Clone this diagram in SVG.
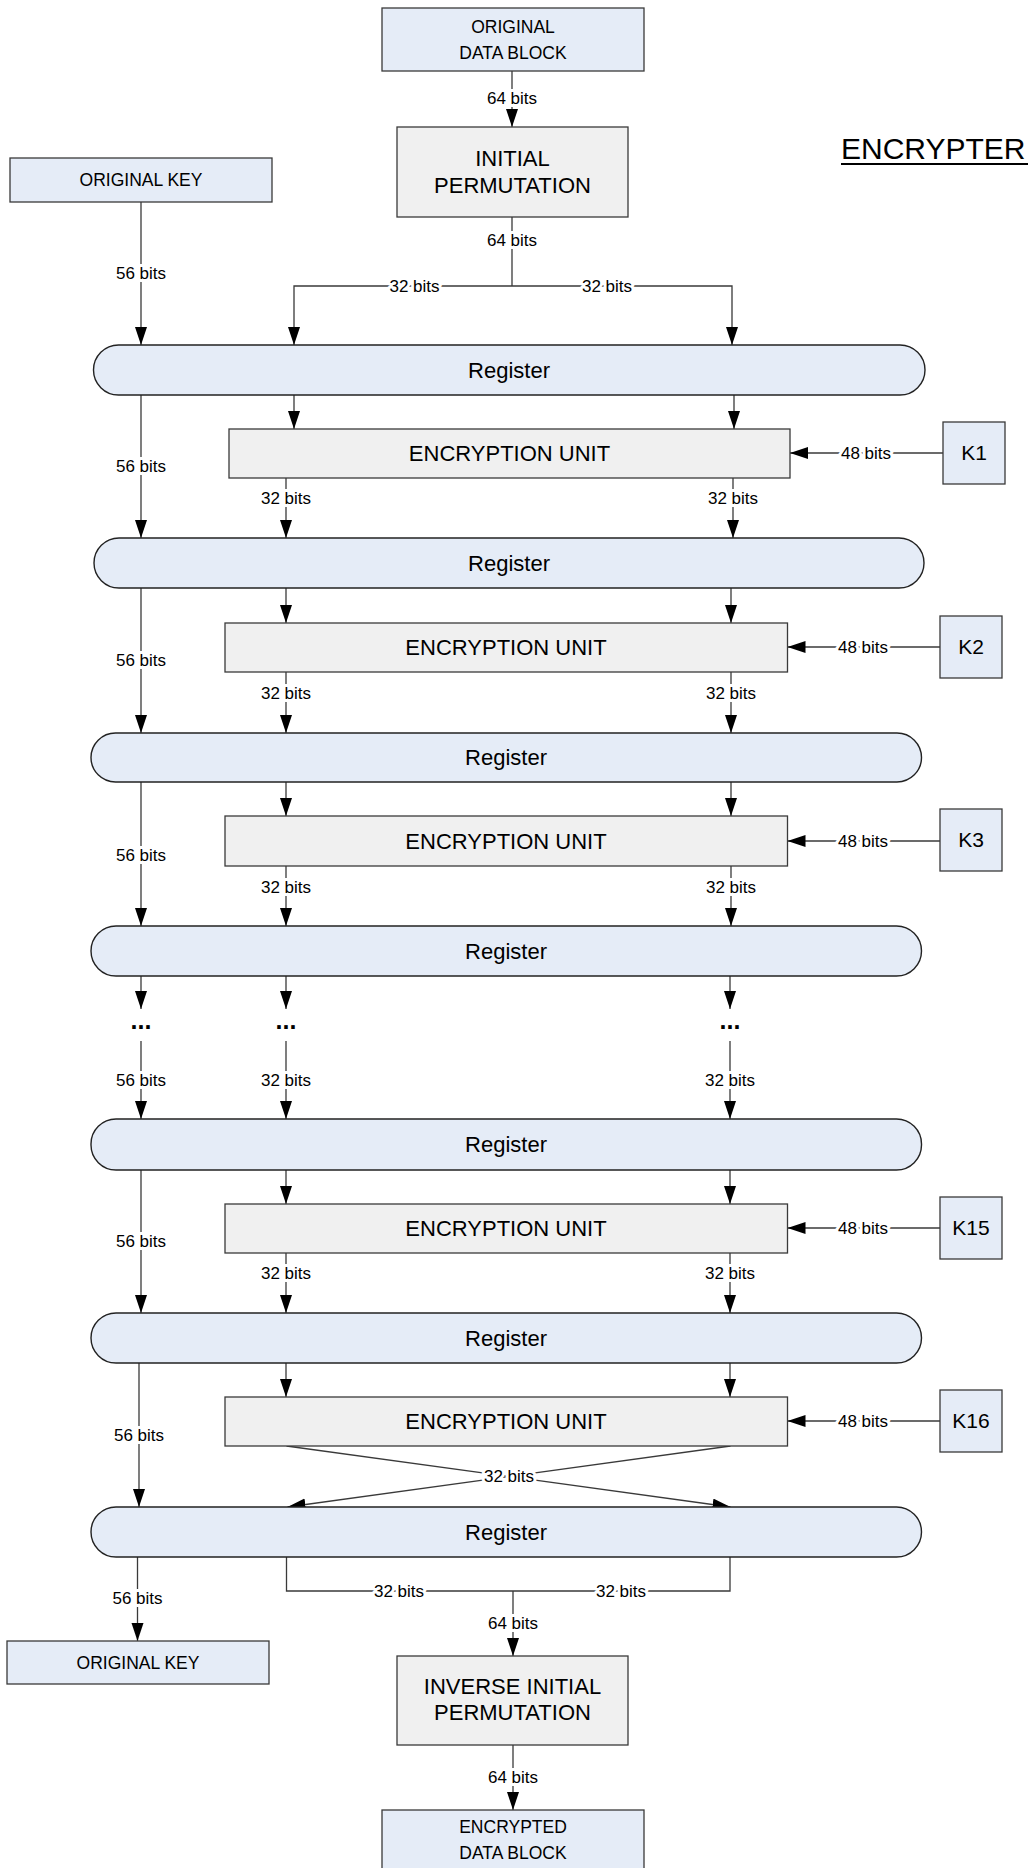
<svg xmlns="http://www.w3.org/2000/svg" width="1035" height="1868" viewBox="0 0 1035 1868">
<style>
text{font-family:"Liberation Sans",Arial,sans-serif;fill:#000;text-anchor:middle}
.blue{fill:#E5ECF7;stroke:#3a3a3a;stroke-width:1.3}
.grey{fill:#F0F0F0;stroke:#3a3a3a;stroke-width:1.3}
.reg{fill:#E5ECF7;stroke:#222;stroke-width:1.4}
.t17{font-size:17.5px}
.t22{font-size:22px}
.tk{font-size:21px}
.lbl{font-size:17px;stroke:#fff;stroke-width:6;paint-order:stroke;stroke-linejoin:round}
.dots{font-size:25px;font-weight:bold}
.c{fill:none;stroke:#3a3a3a;stroke-width:1.3}
.a{marker-end:url(#ah)}
</style>
<defs>
<marker id="ah" markerUnits="userSpaceOnUse" markerWidth="19" markerHeight="13" refX="18" refY="6" orient="auto">
<path d="M0,0 L18,6 L0,12 Z" fill="#000"/>
</marker>
</defs>
<rect width="1035" height="1868" fill="#fff"/>

<g id="connectors">
<path class="c a" d="M512,71 V127"/>
<path class="c" d="M512,217 V286"/>
<path class="c a" d="M512,286 H294 V345"/>
<path class="c a" d="M512,286 H732 V345"/>
<path class="c a" d="M141,202 V345"/>

<path class="c a" d="M294,395 V429"/>
<path class="c a" d="M734,395 V429"/>
<path class="c a" d="M141,395 V538"/>
<path class="c a" d="M286,478 V538"/>
<path class="c a" d="M733,478 V538"/>
<path class="c a" d="M943,453 H790"/>

<path class="c a" d="M286,588 V623"/>
<path class="c a" d="M731,588 V623"/>
<path class="c a" d="M141,588 V733"/>
<path class="c a" d="M286,672 V733"/>
<path class="c a" d="M731,672 V733"/>
<path class="c a" d="M940,647 H787.5"/>

<path class="c a" d="M286,782 V816"/>
<path class="c a" d="M731,782 V816"/>
<path class="c a" d="M141,782 V926"/>
<path class="c a" d="M286,866 V926"/>
<path class="c a" d="M731,866 V926"/>
<path class="c a" d="M940,841 H787.5"/>

<path class="c a" d="M141,976 V1009"/>
<path class="c a" d="M286,976 V1009"/>
<path class="c a" d="M730,976 V1009"/>
<path class="c a" d="M141,1041 V1119"/>
<path class="c a" d="M286,1041 V1119"/>
<path class="c a" d="M730,1041 V1119"/>

<path class="c a" d="M286,1170 V1204"/>
<path class="c a" d="M730,1170 V1204"/>
<path class="c a" d="M141,1170 V1313"/>
<path class="c a" d="M286,1253 V1313"/>
<path class="c a" d="M730,1253 V1313"/>
<path class="c a" d="M940,1228 H787.5"/>

<path class="c a" d="M286,1363 V1397"/>
<path class="c a" d="M730,1363 V1397"/>
<path class="c a" d="M139,1363 V1507"/>
<path class="c a" d="M286.5,1446 L730.5,1507"/>
<path class="c a" d="M730.5,1446 L287.5,1507"/>
<path class="c a" d="M940,1421 H787.5"/>

<path class="c a" d="M137.5,1557 V1641"/>
<path class="c" d="M286.5,1557 V1591 H513"/>
<path class="c" d="M730,1557 V1591 H513"/>
<path class="c a" d="M513,1591 V1656"/>
<path class="c a" d="M513,1745 V1810"/>

<text class="lbl" x="512" y="98" dy=".35em">64 bits</text>
<text class="lbl" x="512" y="240" dy=".35em">64 bits</text>
<text class="lbl" x="414.5" y="286" dy=".35em">32 bits</text>
<text class="lbl" x="607" y="286" dy=".35em">32 bits</text>
<text class="lbl" x="141" y="273" dy=".35em">56 bits</text>

<text class="lbl" x="141" y="466" dy=".35em">56 bits</text>
<text class="lbl" x="286" y="498" dy=".35em">32 bits</text>
<text class="lbl" x="733" y="498" dy=".35em">32 bits</text>
<text class="lbl" x="866" y="453" dy=".35em">48 bits</text>

<text class="lbl" x="141" y="660" dy=".35em">56 bits</text>
<text class="lbl" x="286" y="693" dy=".35em">32 bits</text>
<text class="lbl" x="731" y="693" dy=".35em">32 bits</text>
<text class="lbl" x="863" y="647" dy=".35em">48 bits</text>

<text class="lbl" x="141" y="855" dy=".35em">56 bits</text>
<text class="lbl" x="286" y="887" dy=".35em">32 bits</text>
<text class="lbl" x="731" y="887" dy=".35em">32 bits</text>
<text class="lbl" x="863" y="841" dy=".35em">48 bits</text>

<text class="dots" x="141" y="1029">...</text>
<text class="dots" x="286" y="1029">...</text>
<text class="dots" x="730" y="1029">...</text>
<text class="lbl" x="141" y="1080" dy=".35em">56 bits</text>
<text class="lbl" x="286" y="1080" dy=".35em">32 bits</text>
<text class="lbl" x="730" y="1080" dy=".35em">32 bits</text>

<text class="lbl" x="141" y="1241" dy=".35em">56 bits</text>
<text class="lbl" x="286" y="1273" dy=".35em">32 bits</text>
<text class="lbl" x="730" y="1273" dy=".35em">32 bits</text>
<text class="lbl" x="863" y="1228" dy=".35em">48 bits</text>

<text class="lbl" x="139" y="1435" dy=".35em">56 bits</text>
<text class="lbl" x="509" y="1476" dy=".35em">32 bits</text>
<text class="lbl" x="863" y="1421" dy=".35em">48 bits</text>

<text class="lbl" x="137.5" y="1598" dy=".35em">56 bits</text>
<text class="lbl" x="399" y="1591" dy=".35em">32 bits</text>
<text class="lbl" x="621" y="1591" dy=".35em">32 bits</text>
<text class="lbl" x="513" y="1623" dy=".35em">64 bits</text>
<text class="lbl" x="513" y="1777" dy=".35em">64 bits</text>
</g>

<g id="title">
<text x="841" y="159" style="font-size:30px;text-anchor:start">ENCRYPTER</text>
<rect x="841" y="163" width="187" height="2" fill="#000"/>
</g>

<g id="orig-data-block">
<rect class="blue" x="382" y="8" width="262" height="63"/>
<text class="t17" x="513" y="27" dy=".35em">ORIGINAL</text>
<text class="t17" x="513" y="53" dy=".35em">DATA BLOCK</text>
</g>
<g id="initial-permutation">
<rect class="grey" x="397" y="127" width="231" height="90"/>
<text class="t22" x="512.5" y="158" dy=".35em">INITIAL</text>
<text class="t22" x="512.5" y="185" dy=".35em">PERMUTATION</text>
</g>
<g id="original-key-in">
<rect class="blue" x="10" y="158" width="262" height="44"/>
<text class="t17" x="141" y="180" dy=".35em">ORIGINAL KEY</text>
</g>

<g id="register1"><rect class="reg" x="93.5" y="345" width="831.5" height="50" rx="25"/><text class="t22" x="509" y="370" dy=".35em">Register</text></g>
<g id="register2"><rect class="reg" x="94" y="538" width="830" height="50" rx="25"/><text class="t22" x="509" y="563" dy=".35em">Register</text></g>
<g id="register3"><rect class="reg" x="91" y="733" width="830.5" height="49" rx="24.5"/><text class="t22" x="506" y="757.5" dy=".35em">Register</text></g>
<g id="register4"><rect class="reg" x="91" y="926" width="830.5" height="50" rx="25"/><text class="t22" x="506" y="951" dy=".35em">Register</text></g>
<g id="register5"><rect class="reg" x="91" y="1119" width="830.5" height="51" rx="25"/><text class="t22" x="506" y="1144.5" dy=".35em">Register</text></g>
<g id="register6"><rect class="reg" x="91" y="1313" width="830.5" height="50" rx="25"/><text class="t22" x="506" y="1338" dy=".35em">Register</text></g>
<g id="register7"><rect class="reg" x="91" y="1507" width="830.5" height="50" rx="25"/><text class="t22" x="506" y="1532" dy=".35em">Register</text></g>

<g id="eu1"><rect class="grey" x="229" y="429" width="561" height="49"/><text class="t22" x="509.5" y="453.5" dy=".35em">ENCRYPTION UNIT</text></g>
<g id="eu2"><rect class="grey" x="225" y="623" width="562.5" height="49"/><text class="t22" x="506" y="647.5" dy=".35em">ENCRYPTION UNIT</text></g>
<g id="eu3"><rect class="grey" x="225" y="816" width="562.5" height="50"/><text class="t22" x="506" y="841" dy=".35em">ENCRYPTION UNIT</text></g>
<g id="eu15"><rect class="grey" x="225" y="1204" width="562.5" height="49"/><text class="t22" x="506" y="1228.5" dy=".35em">ENCRYPTION UNIT</text></g>
<g id="eu16"><rect class="grey" x="225" y="1397" width="562.5" height="49"/><text class="t22" x="506" y="1421.5" dy=".35em">ENCRYPTION UNIT</text></g>

<g id="k1"><rect class="blue" x="943" y="422" width="62" height="62"/><text class="tk" x="974" y="453" dy=".35em">K1</text></g>
<g id="k2"><rect class="blue" x="940" y="616" width="62" height="62"/><text class="tk" x="971" y="647" dy=".35em">K2</text></g>
<g id="k3"><rect class="blue" x="940" y="809" width="62" height="62"/><text class="tk" x="971" y="840" dy=".35em">K3</text></g>
<g id="k15"><rect class="blue" x="940" y="1197" width="62" height="62"/><text class="tk" x="971" y="1228" dy=".35em">K15</text></g>
<g id="k16"><rect class="blue" x="940" y="1390" width="62" height="62"/><text class="tk" x="971" y="1421" dy=".35em">K16</text></g>

<g id="original-key-out">
<rect class="blue" x="7" y="1641" width="262" height="43"/>
<text class="t17" x="138" y="1662.5" dy=".35em">ORIGINAL KEY</text>
</g>
<g id="inverse-initial-permutation">
<rect class="grey" x="397" y="1656" width="231" height="89"/>
<text class="t22" x="512.5" y="1686" dy=".35em">INVERSE INITIAL</text>
<text class="t22" x="512.5" y="1712" dy=".35em">PERMUTATION</text>
</g>
<g id="encrypted-data-block">
<rect class="blue" x="382" y="1810" width="262" height="75"/>
<text class="t17" x="513" y="1827" dy=".35em">ENCRYPTED</text>
<text class="t17" x="513" y="1853" dy=".35em">DATA BLOCK</text>
</g>
</svg>
